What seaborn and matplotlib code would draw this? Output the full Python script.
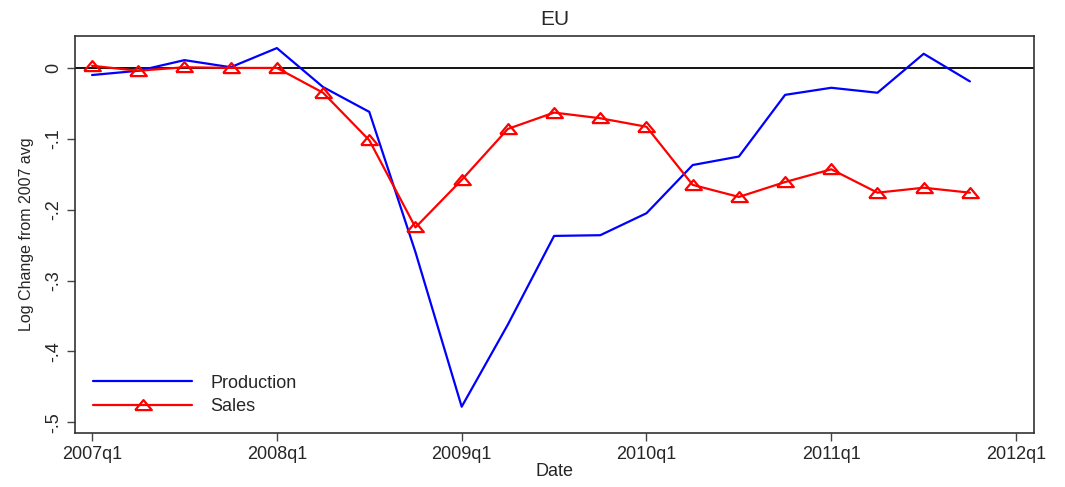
import numpy as np
import pandas as pd
import matplotlib
matplotlib.use('Agg')
import matplotlib.pyplot as plt
import seaborn as sns

sns.set_style('ticks')
plt.rcParams['font.family'] = ['Liberation Sans', 'DejaVu Sans']

# quarters 2007q1 .. 2011q4
quarters = [f'{y}q{q}' for y in range(2007, 2012) for q in range(1, 5)]
production = [-0.010, -0.004, 0.011, 0.001, 0.028, -0.027, -0.062, -0.260,
              -0.478, -0.362, -0.237, -0.236, -0.205, -0.137, -0.125, -0.038,
              -0.028, -0.035, 0.020, -0.019]
sales = [0.003, -0.004, 0.001, 0.000, 0.000, -0.035, -0.102, -0.225,
         -0.158, -0.086, -0.063, -0.071, -0.083, -0.165, -0.182, -0.161,
         -0.143, -0.176, -0.169, -0.176]
xtick_labels = ['2007q1', '2008q1', '2009q1', '2010q1', '2011q1', '2012q1']
ytick_vals = [0, -0.1, -0.2, -0.3, -0.4, -0.5]
ytick_labels = ['0', '-.1', '-.2', '-.3', '-.4', '-.5']

df = pd.DataFrame({'t': np.arange(len(quarters)), 'Production': production, 'Sales': sales})

# flat hollow triangle like Stata's
tri = [(-1, -0.55), (1, -0.55), (0, 0.65), (-1, -0.55)]

fig = plt.figure(figsize=(10.65, 4.87), dpi=100)
ax = fig.add_axes([0.0704, 0.111, 0.9006, 0.815])

ax.axhline(0, color='black', linewidth=1.3, zorder=1)
sns.lineplot(data=df, x='t', y='Production', ax=ax, color='#0000ff', linewidth=1.6,
             label='Production')
sns.lineplot(data=df, x='t', y='Sales', ax=ax, color='#ff0000', linewidth=1.6,
             marker=tri, markersize=12, markerfacecolor='none', markeredgecolor='#ff0000',
             markeredgewidth=1.6, label='Sales')

ax.set_xlim(-0.37, 20.39)
ax.set_ylim(-0.515, 0.045)
ax.set_xticks(np.arange(0, 21, 4))
ax.set_xticklabels(xtick_labels, fontsize=13)
ax.set_yticks(ytick_vals)
ax.set_yticklabels(ytick_labels, fontsize=13, rotation=90, va='center')
ax.tick_params(axis='both', length=6, width=1, color='#444444')
for s in ax.spines.values():
    s.set_linewidth(1.2)
    s.set_color('#333333')

ax.set_xlabel('Date', fontsize=13, labelpad=0)
ax.set_ylabel('Log Change from 2007 avg', fontsize=11.5, labelpad=8)
ax.set_title('EU', fontsize=15, pad=8)

ax.legend(loc='lower left', frameon=False, fontsize=13, handlelength=5.5,
          handletextpad=1.0, borderaxespad=0.6, labelspacing=0.35)

fig.savefig('out.png', dpi=100)
